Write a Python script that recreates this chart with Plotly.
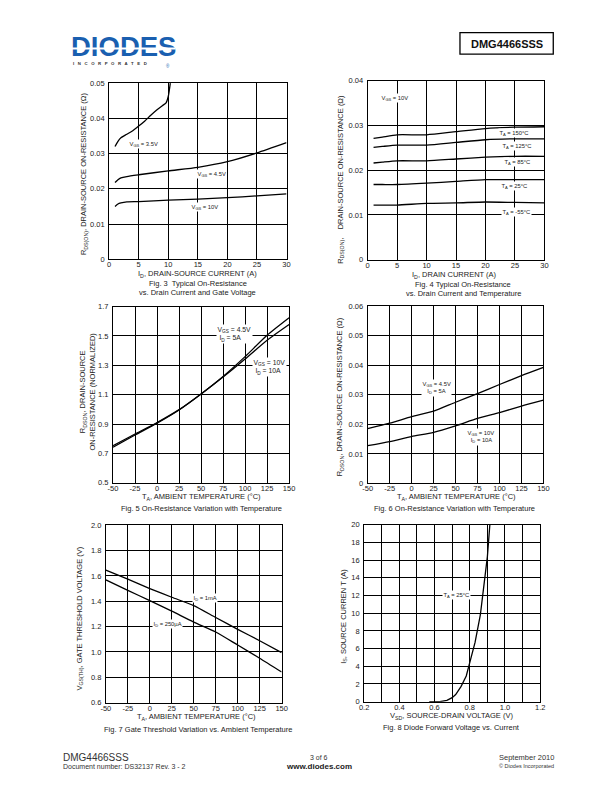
import plotly.graph_objects as go

FONT = "Liberation Sans, Arial, sans-serif"
W, H = 612, 792

# ---------------- data ----------------
# Fig 3
F3_X_35 = [1.0, 1.5, 2.0, 3.0, 4.0, 5.0, 6.0, 7.0, 8.0, 9.0, 9.6, 10.0, 10.35]
F3_Y_35 = [0.0320, 0.0335, 0.0345, 0.0355, 0.0365, 0.0378, 0.0392, 0.0408, 0.0423, 0.0436, 0.0443, 0.0462, 0.0500]
F3_X = [1, 1.5, 2, 3, 5, 10, 15, 20, 25, 30]
F3_Y_45 = [0.0218, 0.0226, 0.0231, 0.0235, 0.0240, 0.0251, 0.0261, 0.0277, 0.0302, 0.0331]
F3_Y_10 = [0.0150, 0.0157, 0.0160, 0.0163, 0.0164, 0.0168, 0.0171, 0.0175, 0.0180, 0.0186]

# Fig 4
F4_X = [1, 2.5, 5, 10, 15, 20, 25, 30]
F4_Y_150 = [0.0271, 0.0274, 0.0279, 0.0279, 0.0286, 0.0293, 0.0296, 0.0297]
F4_Y_125 = [0.0251, 0.0253, 0.0256, 0.0256, 0.0262, 0.0268, 0.0270, 0.0270]
F4_Y_85 = [0.0216, 0.0218, 0.0221, 0.0221, 0.0225, 0.0229, 0.0231, 0.0231]
F4_Y_25 = [0.0168, 0.0168, 0.0168, 0.0171, 0.0175, 0.0179, 0.0179, 0.0179]
F4_Y_M55 = [0.0122, 0.0122, 0.0122, 0.0126, 0.0127, 0.0129, 0.0128, 0.0127]

# Fig 5 / 6 / 7 temperature axis
TEMP = [-50, -25, 0, 25, 50, 75, 100, 125, 150]
TEMP_TICKS = [-50, -25, 0, 25, 50, 75, 100, 125, 150]
TEMP_TEXT = ["-50", "-25", "0", "25", "50", "75", "100", "125", "150"]

F5_Y_45 = [0.742, 0.825, 0.906, 0.996, 1.105, 1.224, 1.359, 1.504, 1.623]
F5_Y_10 = [0.753, 0.832, 0.910, 0.998, 1.105, 1.220, 1.343, 1.471, 1.578]

F6_Y_45 = [0.0186, 0.0204, 0.0226, 0.0245, 0.0275, 0.0304, 0.0335, 0.0365, 0.0393]
F6_Y_10 = [0.0128, 0.0142, 0.0159, 0.0173, 0.0195, 0.0220, 0.0240, 0.0262, 0.0282]

F7_Y_1MA = [1.647, 1.575, 1.501, 1.432, 1.366, 1.272, 1.179, 1.089, 0.995]
F7_Y_250UA = [1.569, 1.487, 1.405, 1.322, 1.236, 1.158, 1.055, 0.951, 0.842]

# Fig 8
F8_VSD = [0.57, 0.63, 0.67, 0.70, 0.72, 0.75, 0.78, 0.80, 0.83, 0.86, 0.88, 0.90, 0.914]
F8_IS = [0, 0, 0.15, 0.45, 0.8, 1.7, 2.9, 4.5, 6.7, 9.8, 12.8, 16.4, 20]
F8_XTICKS = [0.2, 0.4, 0.6, 0.8, 1.0, 1.2]

# ---------------- layout helpers ----------------
def px_dom_x(a, b):
    return [a / W, b / W]

def px_dom_y(top, bottom):
    return [1 - bottom / H, 1 - top / H]

def ax(dom, rng, anchor, **kw):
    d = dict(domain=dom, range=rng, anchor=anchor, showgrid=True, gridcolor="black",
             gridwidth=0.8, showline=True, linecolor="black", linewidth=1, mirror=True,
             ticks="", zeroline=False, fixedrange=True,
             tickfont=dict(size=7.5, family=FONT, color="#222"))
    d.update(kw)
    return d

def xax(dom, rng, anchor, **kw):
    return ax(dom, rng, anchor, ticklabelstandoff=-2, **kw)

def yax(dom, rng, anchor, **kw):
    return ax(dom, rng, anchor, ticklabelstandoff=2, **kw)

fig = go.Figure()
LINE = dict(color="black", width=1.3)

def add(x, y, n, shape="spline"):
    xa = "x" if n == 1 else f"x{n}"
    ya = "y" if n == 1 else f"y{n}"
    ln = dict(LINE, shape=shape)
    if shape == "spline":
        ln["smoothing"] = 0.6
    fig.add_trace(go.Scatter(x=x, y=y, mode="lines", line=ln,
                             xaxis=xa, yaxis=ya, showlegend=False, hoverinfo="skip"))

add(F3_X_35, F3_Y_35, 1)
add(F3_X, F3_Y_45, 1)
add(F3_X, F3_Y_10, 1)
for ys in [F4_Y_150, F4_Y_125, F4_Y_85, F4_Y_25, F4_Y_M55]:
    add(F4_X, ys, 2)
add(TEMP, F5_Y_45, 3)
add(TEMP, F5_Y_10, 3)
add(TEMP, F6_Y_45, 4)
add(TEMP, F6_Y_10, 4)
add(TEMP, F7_Y_1MA, 5)
add(TEMP, F7_Y_250UA, 5)
add(F8_VSD, F8_IS, 6, shape="linear")

layout = dict(
    width=W, height=H, margin=dict(l=0, r=0, t=0, b=0),
    paper_bgcolor="white", plot_bgcolor="white", showlegend=False,
    font=dict(family=FONT, color="#222"),
)
layout["xaxis"] = xax(px_dom_x(106, 286.7), [0, 30], "y", dtick=5, tick0=0)
layout["yaxis"] = yax(px_dom_y(80, 258.3), [0, 0.05], "x", dtick=0.01, tick0=0)
layout["xaxis2"] = xax(px_dom_x(369.3, 549.3), [0, 30], "y2", dtick=5, tick0=0)
layout["yaxis2"] = yax(px_dom_y(77.5, 258.7), [0, 0.04], "x2", dtick=0.01, tick0=0)
layout["xaxis3"] = xax(px_dom_x(110, 289.3), [-50, 150], "y3", tickvals=TEMP_TICKS, ticktext=TEMP_TEXT)
layout["yaxis3"] = yax(px_dom_y(306, 484.3), [0.5, 1.7], "x3", dtick=0.2, tick0=0.5, tickformat=".1f")
layout["xaxis4"] = xax(px_dom_x(369.3, 548.3), [-50, 150], "y4", tickvals=TEMP_TICKS, ticktext=TEMP_TEXT)
layout["yaxis4"] = yax(px_dom_y(305.7, 485), [0, 0.06], "x4", dtick=0.01, tick0=0)
layout["xaxis5"] = xax(px_dom_x(102.7, 281.7), [-50, 150], "y5", tickvals=TEMP_TICKS, ticktext=TEMP_TEXT)
layout["yaxis5"] = yax(px_dom_y(527.3, 706.7), [0.6, 2.0], "x5", dtick=0.2, tick0=0.6, tickformat=".1f")
layout["xaxis6"] = xax(px_dom_x(365.7, 545), [0.2, 1.2], "y6", tickvals=F8_XTICKS, tickformat=".1f",
                       minor=dict(dtick=0.1, tick0=0.2, showgrid=True, gridcolor="black", gridwidth=0.8))
layout["yaxis6"] = yax(px_dom_y(526.7, 705.7), [0, 20], "x6", dtick=2, tick0=0)
fig.update_layout(**layout)

ann = []

def ptext(x, y, text, size=8, angle=0, xanchor="center", bold=False, color="#222", **kw):
    if bold:
        text = f"<b>{text}</b>"
    ann.append(dict(x=x / W, y=1 - y / H, xref="paper", yref="paper", text=text, showarrow=False,
                    textangle=angle, xanchor=xanchor, yanchor="middle",
                    font=dict(size=size, family=FONT, color=color), **kw))

def dtext(n, x, y, text, size=5.8, xanchor="center"):
    xr = "x" if n == 1 else f"x{n}"
    yr = "y" if n == 1 else f"y{n}"
    ann.append(dict(x=x, y=y, xref=xr, yref=yr, text=text, showarrow=False, xanchor=xanchor,
                    yanchor="middle", bgcolor="white", borderpad=0.5, align="left",
                    font=dict(size=size, family=FONT, color="#222")))

# ---- curve labels
dtext(1, 3.2, 0.0327, "V<sub>GS</sub> = 3.5V", xanchor="left")
dtext(1, 17.3, 0.0241, "V<sub>GS</sub> = 4.5V")
dtext(1, 16.2, 0.0149, "V<sub>GS</sub> = 10V")

dtext(2, 4.7, 0.0361, "V<sub>GS</sub> = 10V")
dtext(2, 24.8, 0.0284, "T<sub>A</sub> = 150°C")
dtext(2, 25.3, 0.0254, "T<sub>A</sub> = 125°C")
dtext(2, 25.4, 0.0218, "T<sub>A</sub> = 85°C")
dtext(2, 25.0, 0.0164, "T<sub>A</sub> = 25°C")
dtext(2, 25.2, 0.0107, "T<sub>A</sub> = -55°C")

dtext(3, 67, 1.515, "V<sub>GS</sub> = 4.5V<br> I<sub>D</sub> = 5A", size=6.8, xanchor="left")
dtext(3, 108, 1.29, "V<sub>GS</sub> = 10V<br> I<sub>D</sub> = 10A", size=6.8, xanchor="left")

dtext(4, 11, 0.0322, "V<sub>GS</sub> = 4.5V<br>   I<sub>D</sub> = 5A", size=5.8, xanchor="left")
dtext(4, 61.5, 0.0157, "V<sub>GS</sub> = 10V<br>  I<sub>D</sub> = 10A", size=5.8, xanchor="left")

dtext(5, 62.5, 1.423, "I<sub>D</sub> = 1mA")
dtext(5, 20.4, 1.218, "I<sub>D</sub> = 250µA")

dtext(6, 0.726, 12.07, "T<sub>A</sub> = 25°C")

# ---- axis titles and captions
ptext(80.5, 172, "R<sub>DS(ON)</sub>, DRAIN-SOURCE ON-RESISTANCE (Ω)", size=7.5, angle=-90)
ptext(196.5, 273.5, "I<sub>D</sub>, DRAIN-SOURCE CURRENT (A)", size=7.5)
ptext(196.5, 282.5, "Fig. 3  Typical On-Resistance", size=7.5)
ptext(196.5, 291.5, "vs. Drain Current and Gate Voltage", size=7.5)

ptext(342, 177, "R<sub>DS(ON)</sub>,    DRAIN-SOURCE ON-RESISTANCE (Ω)", size=7.5, angle=-90)
ptext(458, 274, "I<sub>D</sub>, DRAIN CURRENT (A)", size=7.5)
ptext(466.5, 283.5, "Fig. 4 Typical On-Resistance", size=7.5)
ptext(466.5, 292.5, "vs. Drain Current and Temperature", size=7.5)

ptext(84.5, 392, "R<sub>DSON</sub>, DRAIN-SOURCE<br>ON-RESISTANCE (NORMALIZED)", size=7.5, angle=-90)
ptext(200, 498.5, "T<sub>A</sub>, AMBIENT TEMPERATURE (°C)", size=7.5)
ptext(200, 510, "Fig. 5 On-Resistance Variation with Temperature", size=7.5)

ptext(342, 397, "R<sub>DSON</sub>, DRAIN-SOURCE ON-RESISTANCE (Ω)", size=7.5, angle=-90)
ptext(460, 499, "T<sub>A</sub>, AMBIENT TEMPERATURE (°C)", size=7.5)
ptext(458, 510.5, "Fig. 6 On-Resistance Variation with Temperature", size=7.5)

ptext(76, 622, "V<sub>GS(TH)</sub>, GATE THRESHOLD VOLTAGE (V)", size=7.5, angle=-90)
ptext(195, 721.5, "T<sub>A</sub>, AMBIENT TEMPERATURE (°C)", size=7.5)
ptext(196.5, 733.5, "Fig. 7 Gate Threshold Variation vs. Ambient Temperature", size=7.5)

ptext(345, 619, "I<sub>S</sub>, SOURCE CURREN T (A)", size=7.5, angle=-90)
ptext(455, 720.5, "V<sub>SD</sub>, SOURCE-DRAIN VOLTAGE (V)", size=7.5)
ptext(455, 731.5, "Fig. 8 Diode Forward Voltage vs. Current", size=7.5)

# ---- header
ptext(65, 43, "DIODES", size=27.5, xanchor="left", bold=True, color="#1a5fb0")
# thin white stripe through the logo letters
ann.append(dict(x=66 / W, y=1 - 45.5 / H, xref="paper", yref="paper", text=" ", showarrow=False,
                xanchor="left", yanchor="middle", width=104, height=1.4, bgcolor="white",
                borderpad=0, font=dict(size=1, family=FONT, color="white")))
ptext(67, 60.5, "I   N   C   O   R   P   O   R   A   T   E   D", size=4.3,
      xanchor="left", bold=True, color="#333")
ptext(166, 62.5, "®", size=4.5, color="#1a5fb0")
ptext(510.8, 40, "DMG4466SSS", size=11, bold=True, color="#111")

# ---- footer
ptext(57, 762, "DMG4466SSS", size=10, xanchor="left", color="#333")
ptext(57, 771.5, "Document number: DS32137 Rev. 3 - 2", size=7, xanchor="left", color="#333")
ptext(320, 762, "3 of 6", size=7, color="#333")
ptext(320, 771, "www.diodes.com", size=8, bold=True, color="#222")
ptext(561, 762, "September 2010", size=7.5, xanchor="right", color="#333")
ptext(561, 771, "© Diodes Incorporated", size=5.5, xanchor="right", color="#333")

fig.update_layout(annotations=ann)

fig.add_shape(type="rect", xref="paper", yref="paper",
              x0=463.3 / W, x1=558.3 / W, y0=1 - 50.7 / H, y1=1 - 29 / H,
              line=dict(color="black", width=1.3))

fig.write_html("out.html")
